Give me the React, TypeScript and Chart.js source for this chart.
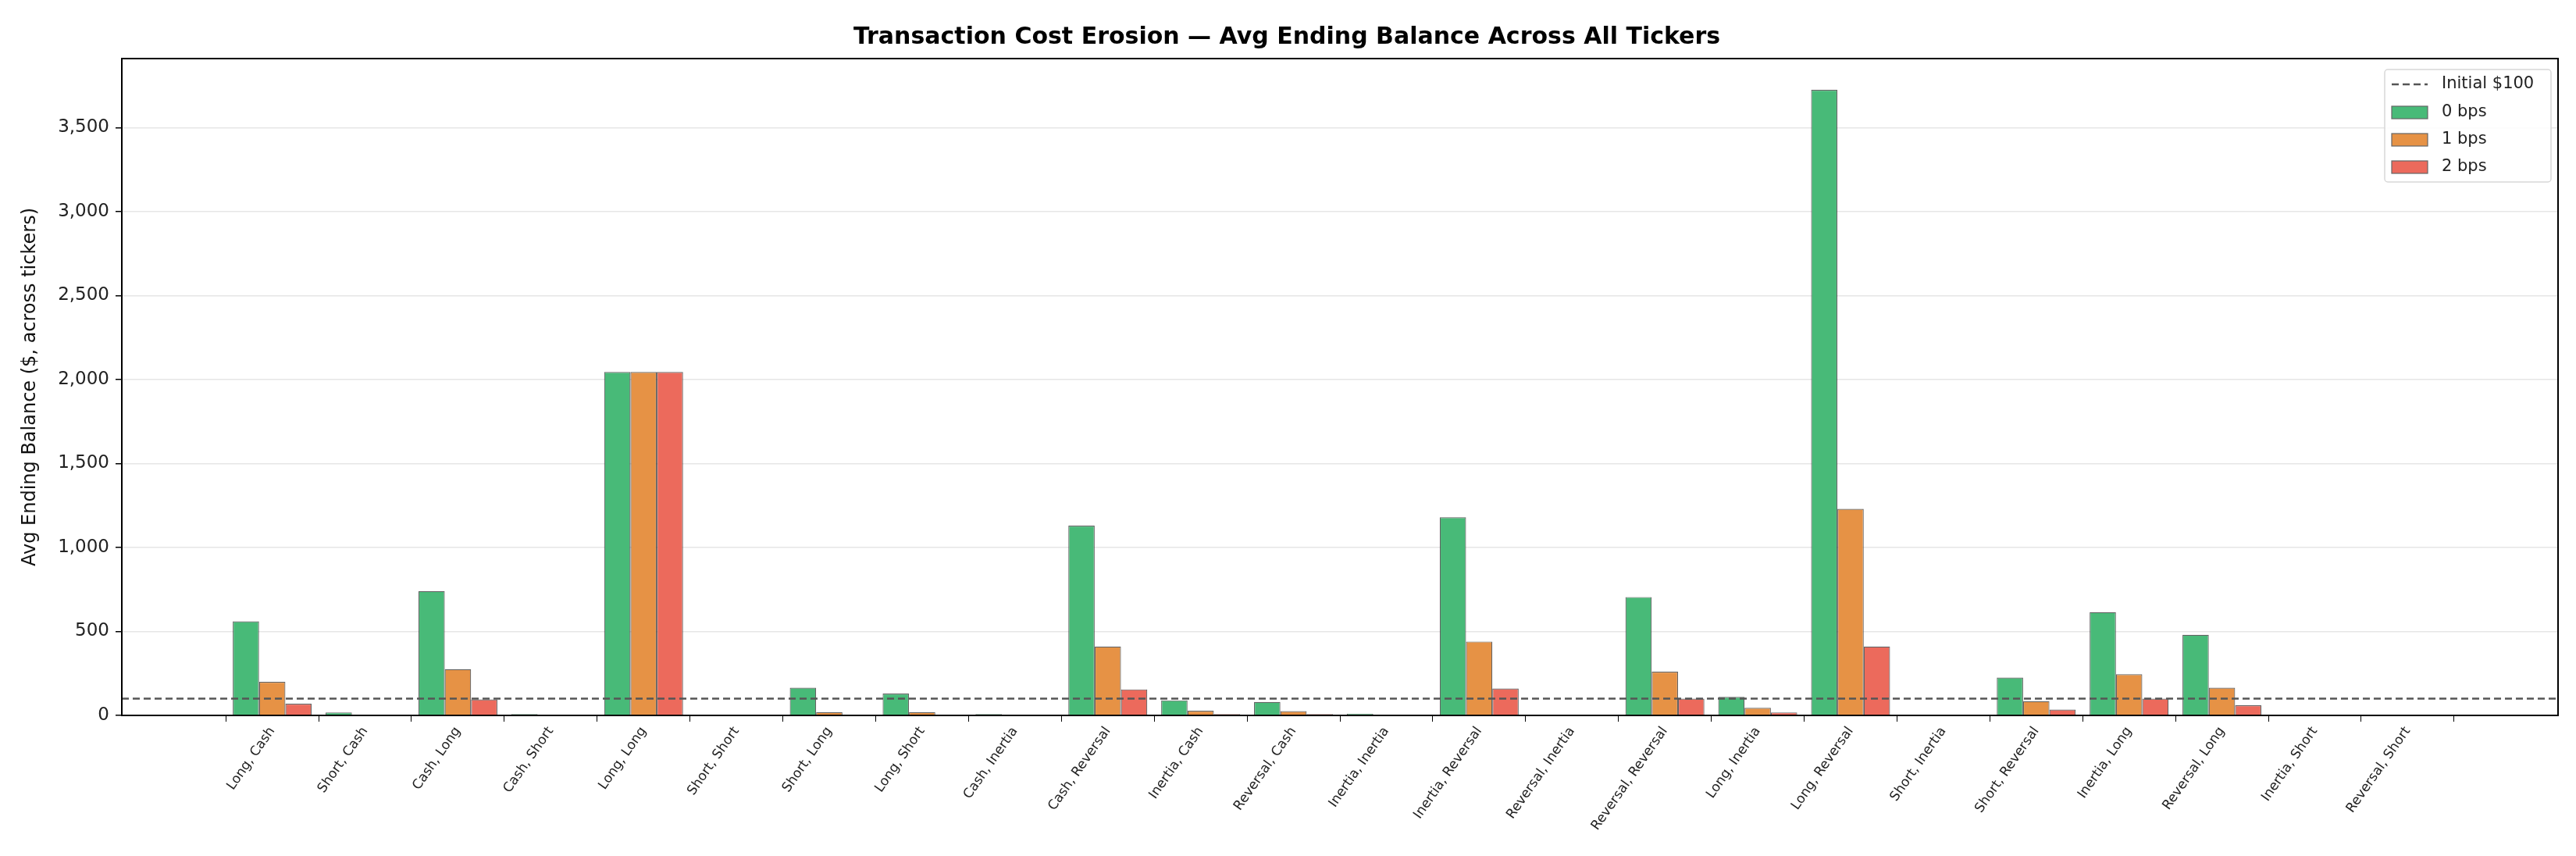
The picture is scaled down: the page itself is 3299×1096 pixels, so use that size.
import React, { useEffect, useRef } from "react";
import { Chart, registerables } from "chart.js";
Chart.register(...registerables);

const categories = ["Long, Cash","Short, Cash","Cash, Long","Cash, Short","Long, Long","Short, Short","Short, Long","Long, Short","Cash, Inertia","Cash, Reversal","Inertia, Cash","Reversal, Cash","Inertia, Inertia","Inertia, Reversal","Reversal, Inertia","Reversal, Reversal","Long, Inertia","Long, Reversal","Short, Inertia","Short, Reversal","Inertia, Long","Reversal, Long","Inertia, Short","Reversal, Short"];
const bps0 = [560,18,740,8,2045,0,165,130,8,1130,90,80,10,1180,3,705,110,3725,2,225,615,480,5,3];
const bps1 = [200,3,275,2,2045,0,20,20,2,410,28,25,3,440,1,260,45,1230,1,85,245,165,2,1];
const bps2 = [70,1,95,1,2045,0,3,3,1,155,8,8,1,160,0,100,18,410,0,35,100,60,1,0];
const initialBalance = 100;
const yTicks = [0,500,1000,1500,2000,2500,3000,3500];

const FONT = "'DejaVu Sans', sans-serif";

export default function App() {
  const ref = useRef<HTMLCanvasElement>(null);
  useEffect(() => {
    const toPts = (a: number[]) => a.map((y, i) => ({ x: i, y }));
    const legendPlugin = {
      id: "customDeco",
      afterDraw(chart: any) {
        const { ctx, chartArea: ca } = chart;
        ctx.save();
        ctx.strokeStyle = "#000";
        ctx.lineWidth = 2;
        ctx.strokeRect(ca.left, ca.top, ca.right - ca.left, ca.bottom - ca.top);
        // legend
        const x0 = 3054, y0 = 89, w = 213, h = 144;
        ctx.fillStyle = "rgba(255,255,255,0.85)";
        ctx.strokeStyle = "#d8d8d8";
        ctx.lineWidth = 1.5;
        ctx.beginPath();
        ctx.roundRect(x0, y0, w, h, 4);
        ctx.fill();
        ctx.stroke();
        ctx.font = `21px ${FONT}`;
        ctx.textBaseline = "middle";
        ctx.fillStyle = "#222";
        const rowY = [y0 + 19, y0 + 55, y0 + 90, y0 + 125];
        ctx.strokeStyle = "#555";
        ctx.lineWidth = 2.5;
        ctx.setLineDash([9, 5]);
        ctx.beginPath();
        ctx.moveTo(x0 + 9, rowY[0]);
        ctx.lineTo(x0 + 55, rowY[0]);
        ctx.stroke();
        ctx.setLineDash([]);
        ctx.fillText("Initial $100", x0 + 73, rowY[0]);
        const cols = ["#48BA78", "#E69245", "#EC6A5C"];
        const labs = ["0 bps", "1 bps", "2 bps"];
        for (let i = 0; i < 3; i++) {
          ctx.fillStyle = cols[i];
          ctx.fillRect(x0 + 9, rowY[i + 1] - 8, 46, 16);
          ctx.strokeStyle = "#666";
          ctx.lineWidth = 1.2;
          ctx.strokeRect(x0 + 9, rowY[i + 1] - 8, 46, 16);
          ctx.fillStyle = "#222";
          ctx.fillText(labs[i], x0 + 73, rowY[i + 1]);
        }
        ctx.restore();
      },
    };
    const barDs = (label: string, data: number[], color: string) => ({
      type: "bar" as const,
      label,
      data: toPts(data),
      backgroundColor: color,
      borderColor: "rgba(60,60,60,0.8)",
      borderWidth: 1.2,
      categoryPercentage: 0.85,
      barPercentage: 1,
      grouped: true,
      order: 2,
    });
    const chart = new Chart(ref.current!, {
      type: "bar",
      data: {
        datasets: [
          {
            type: "line" as const,
            label: "Initial $100",
            data: [{ x: -1.62, y: initialBalance }, { x: 24.62, y: initialBalance }],
            borderColor: "#555",
            borderDash: [9, 5],
            borderWidth: 2.5,
            pointRadius: 0,
            order: 0,
          } as any,
          barDs("0 bps", bps0, "#48BA78"),
          barDs("1 bps", bps1, "#E69245"),
          barDs("2 bps", bps2, "#EC6A5C"),
        ],
      },
      options: {
        animation: false,
        responsive: false,
        layout: { padding: { left: 20, right: 23, top: 0, bottom: 0 } },
        plugins: {
          legend: { display: false },
          tooltip: { enabled: false },
          title: {
            display: true,
            text: "Transaction Cost Erosion — Avg Ending Balance Across All Tickers",
            font: { family: FONT, size: 30, weight: "bold" },
            color: "#000",
            padding: { top: 30, bottom: 9 },
          },
        },
        scales: {
          x: {
            type: "linear",
            min: -1.62,
            max: 24.62,
            offset: false,
            afterBuildTicks: (s: any) => { s.ticks = categories.map((_, i) => ({ value: i })); },
            afterFit: (s: any) => { s.height = 180; },
            ticks: {
              autoSkip: false,
              minRotation: 55,
              maxRotation: 55,
              font: { family: FONT, size: 17 },
              color: "#222",
              callback: (v: any) => categories[v] ?? "",
            },
            grid: { drawOnChartArea: false, tickLength: 8, tickColor: "#000", color: "#000" },
            border: { display: false },
          },
          y: {
            min: 0,
            max: 3911,
            afterBuildTicks: (s: any) => { s.ticks = yTicks.map((v) => ({ value: v })); },
            afterFit: (s: any) => { s.width = 136; },
            ticks: { font: { family: FONT, size: 23 }, color: "#222", padding: 8 },
            title: {
              display: true,
              text: "Avg Ending Balance ($, across tickers)",
              font: { family: FONT, size: 24 },
              color: "#111",
              padding: { bottom: 6 },
            },
            grid: { color: "#e6e6e6", lineWidth: 1.5, tickLength: 8, tickColor: "#000" },
            border: { display: false },
          },
        },
      } as any,
      plugins: [legendPlugin],
    });
    return () => chart.destroy();
  }, []);
  return (
    <div style={{ position: "absolute", left: 0, top: 0, width: 3299, height: 1096, background: "#fff" }}>
      <canvas ref={ref} width={3299} height={1096} style={{ width: 3299, height: 1096 }} />
    </div>
  );
}
